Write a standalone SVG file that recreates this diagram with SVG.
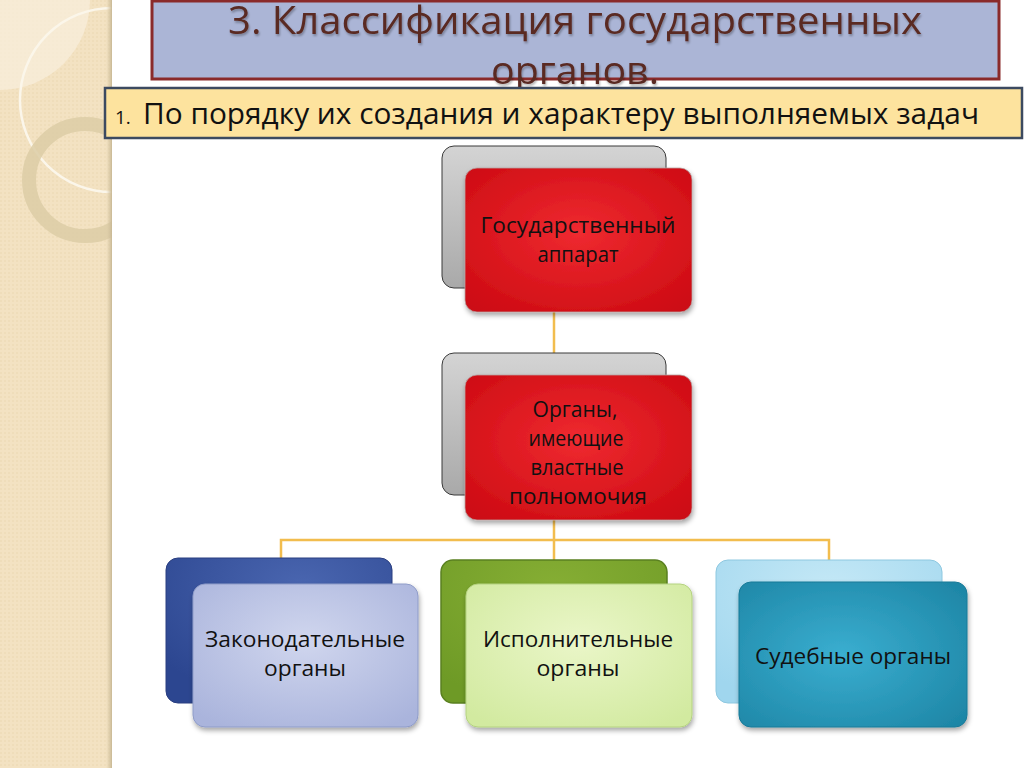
<svg xmlns="http://www.w3.org/2000/svg" width="1024" height="768" viewBox="0 0 1024 768">
<defs>
<style>
.t{font-family:"Open Sans","Noto Sans","DejaVu Sans",sans-serif;fill:#111;text-anchor:middle;font-size:22px}
.conn{stroke:#f2bd4e;stroke-width:2.5;fill:none}
.back{stroke:#3a3a3a;stroke-width:1}
.hd{font-family:"Open Sans","Noto Sans",sans-serif;fill:#5a2a24;text-anchor:middle;font-size:39px}
</style>
<pattern id="dots" width="4" height="4" patternUnits="userSpaceOnUse">
<rect width="4" height="4" fill="#f3e2c2"/>
<circle cx="1" cy="1" r="0.8" fill="#ead7b0"/>
</pattern>
<linearGradient id="edge" x1="0" y1="0" x2="1" y2="0">
<stop offset="0" stop-color="#d9c9a6" stop-opacity="0"/><stop offset="1" stop-color="#c8b894"/>
</linearGradient>
<clipPath id="side"><rect x="0" y="0" width="112" height="768"/></clipPath>
<radialGradient id="red" cx="0.5" cy="0.45" r="0.7">
<stop offset="0" stop-color="#ef2a30"/><stop offset="1" stop-color="#cc0a12"/>
</radialGradient>
<linearGradient id="gray" x1="0" y1="0" x2="0" y2="1">
<stop offset="0" stop-color="#d4d4d4"/><stop offset="1" stop-color="#a9a9a9"/>
</linearGradient>
<radialGradient id="blueB" cx="0.6" cy="0.2" r="0.8">
<stop offset="0" stop-color="#4a66b0"/><stop offset="1" stop-color="#2c4690"/>
</radialGradient>
<radialGradient id="blueF" cx="0.5" cy="0.4" r="0.7">
<stop offset="0" stop-color="#d0d6ee"/><stop offset="1" stop-color="#aab4dc"/>
</radialGradient>
<radialGradient id="greenB" cx="0.5" cy="0.2" r="0.8">
<stop offset="0" stop-color="#86ae34"/><stop offset="1" stop-color="#6e9a26"/>
</radialGradient>
<radialGradient id="greenF" cx="0.5" cy="0.4" r="0.7">
<stop offset="0" stop-color="#eaf6c8"/><stop offset="1" stop-color="#d2eaa0"/>
</radialGradient>
<radialGradient id="cyanB" cx="0.5" cy="0.2" r="0.8">
<stop offset="0" stop-color="#c4e8f6"/><stop offset="1" stop-color="#a0d6ee"/>
</radialGradient>
<radialGradient id="cyanF" cx="0.45" cy="0.5" r="0.7">
<stop offset="0" stop-color="#3aaed0"/><stop offset="1" stop-color="#1e86a6"/>
</radialGradient>
<filter id="sh" x="-10%" y="-10%" width="125%" height="130%">
<feDropShadow dx="1" dy="3" stdDeviation="2.5" flood-color="#000" flood-opacity="0.35"/>
</filter>
<filter id="tsh" x="-5%" y="-20%" width="110%" height="150%">
<feDropShadow dx="1" dy="2" stdDeviation="1" flood-color="#000" flood-opacity="0.3"/>
</filter>
</defs>
<rect width="1024" height="768" fill="#ffffff"/>
<g id="sidebar">
<rect x="0" y="0" width="112" height="768" fill="url(#dots)"/>
<g clip-path="url(#side)">
<path d="M0 0 H90 A90 90 0 0 1 0 90 Z" fill="#f8eedb" opacity="0.75"/>
<circle cx="112" cy="100" r="92" fill="none" stroke="#fbf6ea" stroke-width="2.5"/>
<circle cx="85" cy="180" r="56" fill="none" stroke="#dccca6" stroke-width="14" opacity="0.85"/>
</g>
<rect x="106" y="0" width="6" height="768" fill="url(#edge)"/>
</g>
<g id="title">
<rect x="152" y="1" width="847" height="78" fill="#abb5d6" stroke="#8a2a2a" stroke-width="3"/>
<g filter="url(#tsh)">
<text class="hd" x="575" y="34" textLength="694" lengthAdjust="spacingAndGlyphs">3. Классификация государственных</text>
<text class="hd" x="575" y="84" textLength="168" lengthAdjust="spacingAndGlyphs">органов.</text>
</g>
</g>
<g id="subtitle">
<rect x="105" y="88" width="917" height="50" fill="#fde39e" stroke="#3c4a60" stroke-width="2.5"/>
<text x="115" y="124" font-family="'Open Sans','Noto Sans',sans-serif" font-size="19" fill="#111">1.</text>
<text x="143" y="124" font-family="'Open Sans','Noto Sans',sans-serif" font-size="29" fill="#111" textLength="836" lengthAdjust="spacingAndGlyphs">По порядку их создания и характеру выполняемых задач</text>
</g>
<g id="connectors">
<path class="conn" d="M554 312 V353"/>
<path class="conn" d="M554 520 V560 M281 558 V540 H829 V560"/>
</g>
<g id="node-apparat">
<rect class="back" x="442" y="146" width="224" height="142" rx="12" fill="url(#gray)"/>
<rect x="465" y="168" width="227" height="144" rx="12" fill="url(#red)" stroke="#b8a0a0" stroke-width="0.8" filter="url(#sh)"/>
<text class="t" x="578" y="233" textLength="195" lengthAdjust="spacingAndGlyphs">Государственный</text>
<text class="t" x="578" y="262" textLength="81" lengthAdjust="spacingAndGlyphs">аппарат</text>
</g>
<g id="node-organy">
<rect class="back" x="442" y="353" width="224" height="142" rx="12" fill="url(#gray)"/>
<rect x="465" y="375" width="227" height="145" rx="12" fill="url(#red)" stroke="#b8a0a0" stroke-width="0.8" filter="url(#sh)"/>
<text class="t" x="575" y="417" textLength="85" lengthAdjust="spacingAndGlyphs">Органы,</text>
<text class="t" x="576" y="446" textLength="95" lengthAdjust="spacingAndGlyphs">имеющие</text>
<text class="t" x="577" y="475" textLength="93" lengthAdjust="spacingAndGlyphs">властные</text>
<text class="t" x="578" y="504" textLength="138" lengthAdjust="spacingAndGlyphs">полномочия</text>
</g>
<g id="node-zakon">
<rect x="166" y="558" width="226" height="145" rx="12" fill="url(#blueB)" stroke="#2a3e80" stroke-width="1"/>
<rect x="193" y="584" width="225" height="143" rx="12" fill="url(#blueF)" stroke="#8f9cc8" stroke-width="1" filter="url(#sh)"/>
<text class="t" x="305" y="647" textLength="200" lengthAdjust="spacingAndGlyphs">Законодательные</text>
<text class="t" x="305" y="676" textLength="82" lengthAdjust="spacingAndGlyphs">органы</text>
</g>
<g id="node-ispoln">
<rect x="441" y="560" width="226" height="143" rx="12" fill="url(#greenB)" stroke="#5a8020" stroke-width="1.5"/>
<rect x="466" y="584" width="226" height="143" rx="12" fill="url(#greenF)" stroke="#b4d280" stroke-width="1" filter="url(#sh)"/>
<text class="t" x="578" y="647" textLength="190" lengthAdjust="spacingAndGlyphs">Исполнительные</text>
<text class="t" x="578" y="676" textLength="83" lengthAdjust="spacingAndGlyphs">органы</text>
</g>
<g id="node-sud">
<rect x="716" y="560" width="226" height="143" rx="12" fill="url(#cyanB)" stroke="#8ec8e0" stroke-width="1"/>
<rect x="739" y="582" width="228" height="145" rx="12" fill="url(#cyanF)" stroke="#1a7a98" stroke-width="1" filter="url(#sh)"/>
<text class="t" x="853" y="664" textLength="196" lengthAdjust="spacingAndGlyphs">Судебные органы</text>
</g>
</svg>
